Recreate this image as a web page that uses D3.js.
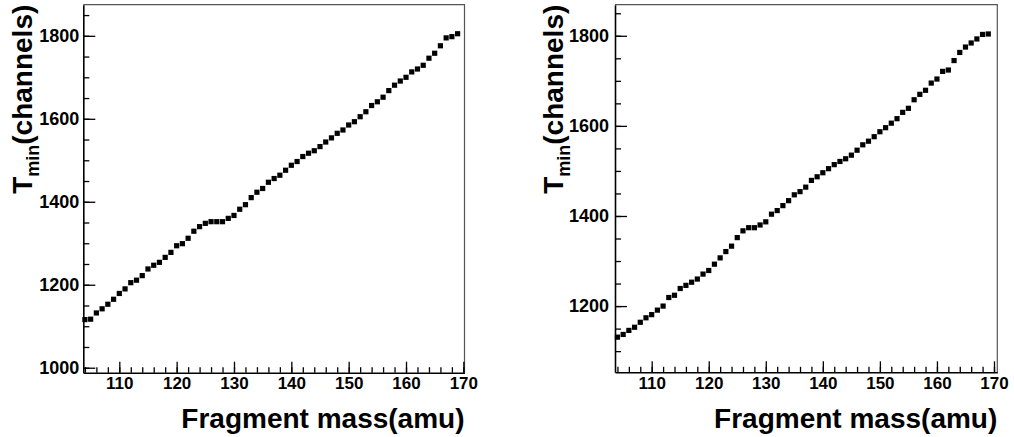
<!DOCTYPE html>
<html>
<head>
<meta charset="utf-8">
<script src="https://cdn.jsdelivr.net/npm/d3@7"></script>
<style>
  html, body { margin: 0; padding: 0; background: #fff; }
  svg { display: block; }
  text { font-family: "Liberation Sans", Arial, Helvetica, sans-serif; font-weight: bold; fill: #000; }
</style>
</head>
<body>
<svg id="chart" width="1014" height="437"></svg>
<script>
// ---- data ----
const masses = d3.range(104, 170); // 104 .. 169 amu
const leftValues = [
  1116, 1117, 1132, 1142, 1153, 1165, 1179, 1190, 1205, 1211,
  1222, 1238, 1247, 1254, 1266, 1278, 1294, 1299, 1312, 1329,
  1340, 1348, 1352, 1352, 1352, 1360, 1367, 1382, 1393, 1410,
  1423, 1432, 1447, 1456, 1464, 1476, 1488, 1497, 1509, 1517,
  1523, 1533, 1544, 1554, 1565, 1573, 1585, 1593, 1605, 1617,
  1632, 1641, 1652, 1668, 1681, 1691, 1700, 1713, 1720, 1729,
  1746, 1758, 1776, 1795, 1798, 1805
];
const rightValues = [
  1131, 1137, 1146, 1153, 1164, 1174, 1181, 1191, 1200, 1219,
  1224, 1239, 1246, 1253, 1260, 1271, 1279, 1293, 1307, 1321,
  1333, 1352, 1367, 1374, 1374, 1380, 1387, 1404, 1412, 1423,
  1434, 1447, 1454, 1464, 1479, 1487, 1496, 1505, 1514, 1521,
  1527, 1535, 1546, 1558, 1566, 1576, 1587, 1596, 1606, 1616,
  1630, 1639, 1658, 1670, 1679, 1695, 1704, 1721, 1724, 1745,
  1763, 1775, 1784, 1793, 1803, 1804
];
const xTickLabels = [110, 120, 130, 140, 150, 160, 170];
const leftYTickLabels = [1000, 1200, 1400, 1600, 1800];
const rightYTickLabels = [1200, 1400, 1600, 1800];
const xTitle = "Fragment mass(amu)";
const yTitleMain = "T", yTitleSub = "min", yTitleRest = "(channels)";

// ---- panels (layout) ----
const panels = [
  { values: leftValues, yTicks: leftYTickLabels,
    x0: 83.3, x1: 464.5, y0: 372.7, y1: 4.7,
    xDomain: [103.72, 170.2], yDomain: [988, 1875], yTitleX: 32, yLabelGap: 4 },
  { values: rightValues, yTicks: rightYTickLabels,
    x0: 615, x1: 997.3, y0: 372.3, y1: 4.7,
    xDomain: [103.57, 170.58], yDomain: [1053, 1869], yTitleX: 563, yLabelGap: 6 }
];

const svg = d3.select("#chart");

panels.forEach(p => {
  const x = d3.scaleLinear().domain(p.xDomain).range([p.x0, p.x1]);
  const y = d3.scaleLinear().domain(p.yDomain).range([p.y0, p.y1]);
  const g = svg.append("g");

  // frame top/right
  g.append("path")
    .attr("d", `M${p.x0},${p.y1}H${p.x1}V${p.y0}`)
    .attr("fill", "none").attr("stroke", "#555").attr("stroke-width", 1.2);

  // minor y ticks
  const yMinor = d3.range(Math.ceil(p.yDomain[0] / 50) * 50, p.yDomain[1], 50);
  g.append("g").attr("transform", `translate(${p.x0},0)`)
    .call(d3.axisLeft(y).tickValues(yMinor).tickFormat("").tickSize(-6).tickSizeOuter(0))
    .call(s => s.select(".domain").remove())
    .selectAll("line").attr("stroke", "#000").attr("stroke-width", 1.3);
  // major y ticks
  const yAx = g.append("g").attr("transform", `translate(${p.x0},0)`)
    .call(d3.axisLeft(y).tickValues(p.yTicks).tickFormat(d3.format("d")).tickSize(-12).tickPadding(p.yLabelGap).tickSizeOuter(0));
  yAx.select(".domain").attr("stroke", "#000").attr("stroke-width", 1.6);
  yAx.selectAll("line").attr("stroke", "#000").attr("stroke-width", 1.3);
  yAx.selectAll("text").attr("x", -p.yLabelGap).style("font-size", "18px")
    .style("font-family", "'Liberation Sans', Arial, sans-serif").style("font-weight", "bold").attr("fill", "#000");

  // minor x ticks
  const xMinor = d3.range(104, 171, 2);
  g.append("g").attr("transform", `translate(0,${p.y0})`)
    .call(d3.axisBottom(x).tickValues(xMinor).tickFormat("").tickSize(-5.5).tickSizeOuter(0))
    .call(s => s.select(".domain").remove())
    .selectAll("line").attr("stroke", "#000").attr("stroke-width", 1.3);
  // major x ticks
  const xAx = g.append("g").attr("transform", `translate(0,${p.y0})`)
    .call(d3.axisBottom(x).tickValues(xTickLabels).tickFormat(d3.format("d")).tickSize(-11).tickSizeOuter(0));
  xAx.select(".domain").attr("stroke", "#000").attr("stroke-width", 1.6);
  xAx.selectAll("line").attr("stroke", "#000").attr("stroke-width", 1.3);
  xAx.selectAll("text").attr("y", 16.5).attr("dy", 0).style("font-size", "17px")
    .style("font-family", "'Liberation Sans', Arial, sans-serif").style("font-weight", "bold").attr("fill", "#000");

  // markers
  g.append("g").selectAll("rect")
    .data(masses.map((m, i) => ({ m, v: p.values[i] })))
    .join("rect")
    .attr("x", d => x(d.m) - 2.6).attr("y", d => y(d.v) - 2.6)
    .attr("width", 5.2).attr("height", 5.2).attr("fill", "#000");

  // x title
  g.append("text")
    .attr("x", p.x1).attr("y", 428)
    .attr("text-anchor", "end").style("font-size", "28px")
    .text(xTitle);

  // y title
  const yt = g.append("text")
    .attr("transform", `translate(${p.yTitleX},${p.y1}) rotate(-90)`)
    .attr("text-anchor", "end").style("font-size", "28px");
  yt.append("tspan").text(yTitleMain);
  yt.append("tspan").attr("dy", 7).style("font-size", "18px").text(yTitleSub);
  yt.append("tspan").attr("dy", -7).text(yTitleRest);
});
</script>
</body>
</html>
